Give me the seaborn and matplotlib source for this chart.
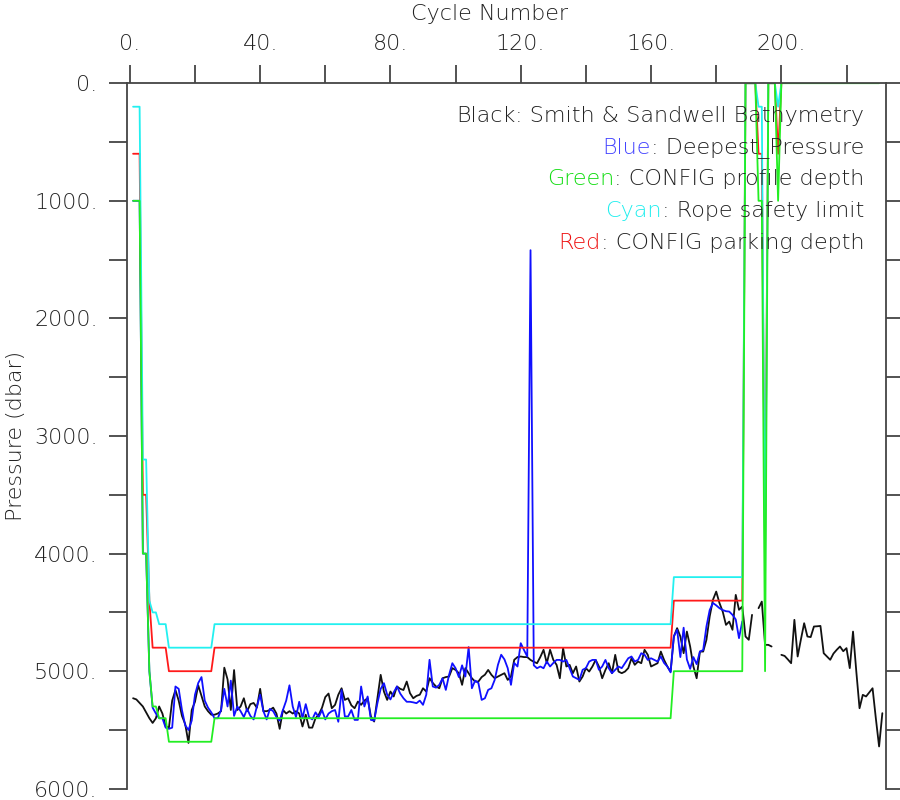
import numpy as np
import pandas as pd
import seaborn as sns
import matplotlib.pyplot as plt
from matplotlib.ticker import MultipleLocator, FuncFormatter

# Cycle numbers 1..231
cycles = np.arange(1, 232)

# Smith & Sandwell bathymetry (dbar), one value per cycle, nan = gap
bathymetry = [
    5230, 5240, 5270, 5300, 5350, 5400, 5440, 5400, 5300, 5360,
    5470, 5480, 5250, 5160, 5250, 5380, 5450, 5610, 5330, 5260,
    5120, 5210, 5300, 5340, 5370, 5370, 5360, 5340, 4970, 5070,
    5330, 4990, 5330, 5300, 5230, 5340, 5280, 5270, 5310, 5150,
    5340, 5340, 5330, 5310, 5360, 5490, 5330, 5360, 5340, 5360,
    5340, 5360, 5470, 5370, 5480, 5480, 5400, 5370, 5310, 5220,
    5190, 5315, 5286, 5200, 5145, 5244, 5230, 5290, 5315, 5258,
    5286, 5250, 5230, 5385, 5428, 5230, 5031, 5173, 5244, 5173,
    5215, 5130, 5150, 5160, 5088, 5187, 5230, 5210, 5200, 5145,
    5173, 5060, 5100, 5130, 5145, 5060, 5050, 5045, 4974, 4989,
    5017, 5116, 4974, 5017, 5060, 5088, 5088, 5050, 5030, 4989,
    5031, 5060, 5045, 5031, 5017, 5074, 5045, 4903, 4880, 4875,
    4880, 4880, 4904, 4920, 4932, 4880, 4818, 4932, 4818, 4904,
    4946, 5060, 4804, 4960, 4946, 5017, 4960, 5088, 5045, 4974,
    5003, 4960, 4904, 4960, 5060, 4989, 4932, 5017, 4861, 5003,
    5017, 5003, 4974, 4890, 4946, 4918, 4932, 4818, 4861, 4960,
    4946, 4932, 4833, 4904, 4960, 5003, 4705, 4634, 4705, 4847,
    4663, 4790, 4960, 5060, 4833, 4833, 4733, 4535, 4393, 4323,
    4420, 4493, 4606, 4578, 4648, 4351, 4478, 4450, 4705, 4733,
    4521, np.nan, 4464, 4408, 4776, 4776, 4790, np.nan, np.nan, 4861,
    4870, 4900, 4932, 4563, 4875, 4730, 4592, 4705, 4710, 4620,
    4618, 4615, 4847, 4875, 4903, 4850, 4818, 4790, 4830, 4804,
    4974, 4663, 5000, 5315, 5201, 5215, 5180, 5145, 5400, 5640,
    5357,
]

# Deepest pressure (dbar), cycles 1..188
deepest = [
    1000, 1000, 1000, 4000, 4000, 5000, 5310, 5360, 5400, 5400,
    5480, 5490, 5480, 5130, 5150, 5330, 5460, 5500, 5420, 5200,
    5100, 5050, 5250, 5310, 5350, 5400, 5400, 5330, 5150, 5300,
    5080, 5380, 5300, 5340, 5390, 5320, 5380, 5410, 5300, 5200,
    5340, 5410, 5320, 5340, 5390, 5420, 5330, 5250, 5120, 5300,
    5390, 5260, 5400, 5280, 5390, 5410, 5350, 5390, 5330, 5410,
    5360, 5340, 5330, 5430, 5160, 5385, 5385, 5330, 5414, 5414,
    5130, 5300, 5215, 5414, 5420, 5272, 5150, 5102, 5200, 5240,
    5180, 5130, 5190, 5230, 5260, 5260, 5265, 5272, 5250, 5286,
    5200, 4903, 5130, 5140, 5116, 5060, 5159, 5031, 4932, 4975,
    5050, 4950, 5045, 4795, 5145, 5080, 5100, 5244, 5230, 5159,
    5145, 5074, 4946, 4860, 4900, 4974, 5116, 4930, 4960, 4762,
    4820, 4875, 1420, 4950, 4975, 4960, 4975, 4918, 4960, 4930,
    4904, 4904, 4918, 4904, 4974, 5045, 5060, 5074, 4988, 4974,
    4918, 4904, 4904, 4988, 4960, 4904, 4974, 5017, 4988, 4960,
    4974, 4932, 4890, 4875, 4918, 4904, 4847, 4860, 4904, 4890,
    4904, 4918, 4875, 4930, 4960, 5010, 4705, 4648, 4880, 4630,
    4900, 4980, 4880, 4940, 4833, 4820, 4620, 4480, 4420, 4440,
    4464, 4480, 4490, 4493, 4521, 4560, 4719, 4577,
]

# CONFIG values as runs: (first cycle, last cycle, dbar)
profile_runs = [(1, 3, 1000), (4, 5, 4000), (6, 6, 5000), (7, 8, 5300),
                (9, 11, 5400), (12, 25, 5600), (26, 166, 5400), (167, 188, 5000),
                (189, 192, 0), (193, 194, 1000), (195, 195, 5000), (196, 198, 0),
                (199, 199, 1000), (200, 230, 0)]
rope_runs = [(1, 3, 200), (4, 5, 3200), (6, 6, 4400), (7, 8, 4500),
             (9, 11, 4600), (12, 25, 4800), (26, 166, 4600), (167, 188, 4200),
             (189, 192, 0), (193, 194, 200), (195, 195, 4200), (196, 198, 0),
             (199, 199, 200), (200, 200, 0)]
parking_runs = [(1, 3, 600), (4, 5, 3500), (6, 6, 4400), (7, 11, 4800),
                (12, 25, 5000), (26, 166, 4800), (167, 188, 4400),
                (189, 192, 0), (193, 194, 600), (195, 195, 4000), (196, 198, 0),
                (199, 199, 600), (200, 200, 0)]

legend_lines = [("Black", ": Smith & Sandwell Bathymetry", "#222222"),
                ("Blue", ": Deepest_Pressure", "#4444ff"),
                ("Green", ": CONFIG profile depth", "#11dd11"),
                ("Cyan", ": Rope safety limit", "#22eeee"),
                ("Red", ": CONFIG parking depth", "#ee1111")]


def expand(runs):
    arr = np.full(len(cycles), np.nan)
    for a, b, v in runs:
        arr[a - 1:b] = v
    return arr


def pad(values):
    arr = np.full(len(cycles), np.nan)
    arr[:len(values)] = values
    return arr


def build_frame():
    series = {
        "bathy": pad(bathymetry),
        "deepest": pad(deepest),
        "parking": expand(parking_runs),
        "rope": expand(rope_runs),
        "profile": expand(profile_runs),
    }
    frames = []
    for name, vals in series.items():
        seg = np.cumsum(np.isnan(vals))
        df = pd.DataFrame({"cycle": cycles, "pressure": vals,
                           "series": name, "seg": seg})
        frames.append(df.dropna())
    return pd.concat(frames, ignore_index=True)


def main():
    sns.set_style("white")
    plt.rcParams['font.family'] = ['DejaVu Sans']
    plt.rcParams['font.weight'] = 'light'
    plt.rcParams['axes.labelweight'] = 'light'
    fs = 16
    txt = '#222222'

    data = build_frame()
    palette = {"bathy": "#111111", "deepest": "#1010ff", "parking": "#ff1a1a",
               "rope": "#22f0f0", "profile": "#22ee22"}
    order = ["bathy", "deepest", "parking", "rope", "profile"]

    fig = plt.figure(figsize=(9, 8), dpi=100)
    ax = fig.add_axes([0.141, 0.014, 0.843, 0.882])

    sns.lineplot(data=data, x="cycle", y="pressure", hue="series",
                 hue_order=order, palette=palette, units="seg",
                 estimator=None, legend=False, linewidth=1.3, ax=ax)

    ax.set_xlim(-0.9, 232)
    ax.set_ylim(6000, 0)
    ax.xaxis.tick_top()
    ax.xaxis.set_label_position('top')
    ax.xaxis.set_major_locator(MultipleLocator(40))
    ax.xaxis.set_minor_locator(MultipleLocator(20))
    ax.yaxis.set_major_locator(MultipleLocator(1000))
    ax.yaxis.set_minor_locator(MultipleLocator(500))
    fmt = FuncFormatter(lambda v, p: f"{v:.0f}.")
    ax.xaxis.set_major_formatter(fmt)
    ax.yaxis.set_major_formatter(fmt)

    ax.tick_params(which='both', direction='out', length=13, width=1.3,
                   color='#444444', top=True, bottom=False, left=True,
                   right=True, labelright=False, labelbottom=False,
                   labeltop=True, labelsize=fs, labelcolor=txt, pad=8)
    for side in ['top', 'left', 'right']:
        ax.spines[side].set_color('#444444')
        ax.spines[side].set_linewidth(1.3)
    ax.spines['bottom'].set_visible(False)

    ax.set_xlabel("Cycle Number", fontsize=fs, fontweight='light',
                  color=txt, labelpad=10)
    ax.xaxis.label.set_x(0.478)
    ax.set_ylabel("Pressure (dbar)", fontsize=fs, fontweight='light',
                  color=txt, labelpad=6)

    # colour-keyed notes in the upper right
    for i, (word, rest, col) in enumerate(legend_lines):
        t = ax.text(0.972, 0.954 - i * 0.0452, rest, transform=ax.transAxes,
                    ha='right', va='center', fontsize=fs, color=txt)
        ax.annotate(word, xy=(0, 0.5), xycoords=t, ha='right', va='center',
                    fontsize=fs, color=col)

    fig.savefig("out.png", dpi=100)


if __name__ == "__main__":
    main()
